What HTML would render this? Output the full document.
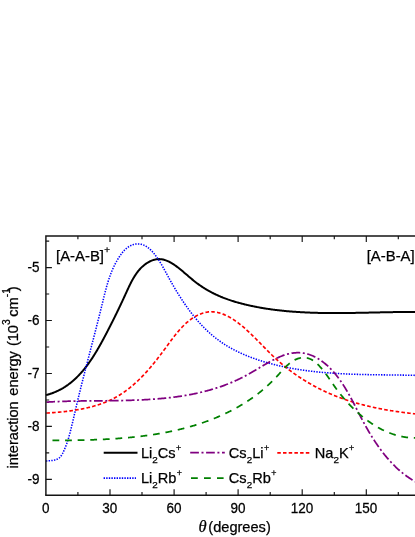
<!DOCTYPE html>
<html><head><meta charset="utf-8"><title>chart</title>
<style>html,body{margin:0;padding:0;background:#fff;}body{width:415px;height:537px;overflow:hidden;font-family:"Liberation Sans",sans-serif;}svg{display:block;will-change:transform}</style>
</head><body>
<svg width="415" height="537" viewBox="0 0 415 537">
<rect width="415" height="537" fill="#ffffff"/>
<defs><clipPath id="c"><rect x="45.4" y="235.9" width="400" height="259.4"/></clipPath></defs>
<g clip-path="url(#c)" fill="none">
<path d="M45.88,395.08 L46.67,394.88 L47.45,394.67 L48.22,394.45 L48.98,394.23 L49.74,394.00 L50.50,393.75 L51.25,393.50 L51.99,393.25 L52.72,392.98 L53.45,392.70 L54.18,392.42 L54.89,392.13 L55.61,391.83 L56.31,391.52 L57.01,391.20 L57.71,390.88 L58.40,390.55 L59.08,390.21 L59.76,389.86 L60.43,389.51 L61.10,389.14 L61.76,388.78 L62.41,388.40 L63.07,388.02 L63.71,387.63 L64.35,387.23 L64.99,386.83 L65.62,386.41 L66.24,386.00 L66.86,385.57 L67.48,385.14 L68.09,384.71 L68.69,384.26 L69.29,383.81 L69.89,383.36 L70.48,382.89 L71.06,382.43 L71.64,381.95 L72.22,381.47 L72.79,380.99 L73.36,380.50 L73.92,380.00 L74.48,379.50 L75.03,378.99 L75.58,378.48 L76.13,377.96 L76.67,377.44 L77.20,376.91 L77.73,376.37 L78.26,375.84 L78.79,375.29 L79.31,374.75 L79.82,374.19 L80.33,373.64 L80.84,373.07 L81.35,372.51 L81.85,371.94 L82.34,371.36 L82.84,370.79 L83.32,370.20 L83.81,369.62 L84.29,369.03 L84.77,368.43 L85.24,367.84 L85.71,367.23 L86.18,366.63 L86.65,366.02 L87.11,365.41 L87.57,364.79 L88.02,364.18 L88.47,363.55 L88.92,362.93 L89.36,362.30 L89.80,361.67 L90.24,361.04 L90.68,360.40 L91.11,359.77 L91.54,359.13 L91.97,358.48 L92.39,357.84 L92.81,357.19 L93.23,356.54 L93.65,355.89 L94.06,355.23 L94.47,354.58 L94.88,353.92 L95.29,353.26 L95.69,352.60 L96.09,351.94 L96.49,351.27 L96.89,350.61 L97.28,349.94 L97.67,349.27 L98.06,348.61 L98.45,347.94 L98.84,347.26 L99.22,346.59 L99.60,345.92 L99.98,345.25 L100.36,344.57 L100.73,343.90 L101.11,343.22 L101.48,342.55 L101.85,341.87 L102.22,341.20 L102.58,340.52 L102.95,339.84 L103.31,339.17 L103.68,338.49 L104.04,337.82 L104.40,337.14 L104.76,336.47 L105.11,335.79 L105.47,335.12 L105.82,334.45 L106.18,333.77 L106.53,333.10 L106.88,332.43 L107.23,331.76 L107.58,331.09 L107.92,330.42 L108.27,329.75 L108.62,329.08 L108.96,328.41 L109.30,327.74 L109.65,327.08 L109.99,326.41 L110.33,325.74 L110.67,325.07 L111.00,324.41 L111.34,323.74 L111.68,323.07 L112.02,322.41 L112.35,321.74 L112.68,321.07 L113.02,320.41 L113.35,319.74 L113.68,319.07 L114.01,318.41 L114.35,317.74 L114.68,317.07 L115.00,316.40 L115.33,315.73 L115.66,315.06 L115.99,314.40 L116.32,313.73 L116.64,313.06 L116.97,312.39 L117.29,311.71 L117.62,311.04 L117.94,310.37 L118.27,309.70 L118.59,309.02 L118.91,308.35 L119.24,307.67 L119.56,307.00 L119.88,306.32 L120.20,305.64 L120.52,304.96 L120.84,304.28 L121.16,303.60 L121.48,302.92 L121.81,302.24 L122.13,301.55 L122.45,300.87 L122.77,300.18 L123.08,299.50 L123.40,298.81 L123.72,298.12 L124.04,297.43 L124.36,296.73 L124.68,296.04 L125.00,295.34 L125.32,294.65 L125.64,293.95 L125.96,293.25 L126.28,292.55 L126.60,291.84 L126.92,291.14 L127.24,290.44 L127.57,289.73 L127.89,289.03 L128.22,288.33 L128.55,287.63 L128.88,286.93 L129.21,286.23 L129.55,285.53 L129.88,284.83 L130.23,284.14 L130.57,283.45 L130.92,282.76 L131.28,282.08 L131.63,281.40 L131.99,280.72 L132.36,280.05 L132.73,279.38 L133.11,278.71 L133.49,278.05 L133.88,277.40 L134.27,276.75 L134.67,276.11 L135.08,275.47 L135.49,274.85 L135.91,274.22 L136.34,273.61 L136.77,273.00 L137.21,272.40 L137.66,271.81 L138.12,271.22 L138.58,270.65 L139.06,270.08 L139.54,269.52 L140.03,268.98 L140.53,268.44 L141.04,267.91 L141.57,267.39 L142.10,266.89 L142.64,266.39 L143.19,265.91 L143.75,265.43 L144.32,264.97 L144.89,264.53 L145.48,264.10 L146.07,263.68 L146.67,263.27 L147.28,262.88 L147.89,262.51 L148.51,262.16 L149.13,261.82 L149.76,261.49 L150.40,261.19 L151.03,260.90 L151.67,260.64 L152.32,260.39 L152.96,260.16 L153.61,259.96 L154.26,259.77 L154.91,259.61 L155.56,259.47 L156.21,259.35 L156.86,259.25 L157.51,259.18 L158.16,259.13 L158.80,259.11 L159.45,259.11 L160.09,259.14 L160.73,259.19 L161.37,259.26 L162.01,259.35 L162.65,259.46 L163.29,259.60 L163.92,259.75 L164.56,259.93 L165.19,260.13 L165.82,260.34 L166.46,260.57 L167.09,260.82 L167.72,261.09 L168.34,261.38 L168.97,261.68 L169.60,261.99 L170.23,262.32 L170.85,262.67 L171.48,263.03 L172.10,263.40 L172.73,263.79 L173.35,264.19 L173.97,264.60 L174.60,265.02 L175.22,265.46 L175.84,265.90 L176.46,266.36 L177.09,266.82 L177.71,267.29 L178.33,267.77 L178.95,268.26 L179.58,268.76 L180.20,269.26 L180.82,269.77 L181.45,270.28 L182.07,270.80 L182.69,271.33 L183.32,271.85 L183.94,272.39 L184.57,272.92 L185.19,273.46 L185.82,274.00 L186.45,274.54 L187.08,275.08 L187.70,275.62 L188.33,276.16 L188.97,276.70 L189.60,277.24 L190.23,277.78 L190.86,278.31 L191.50,278.85 L192.13,279.38 L192.77,279.90 L193.41,280.42 L194.05,280.94 L194.69,281.45 L195.33,281.95 L195.98,282.45 L196.62,282.94 L197.27,283.43 L197.92,283.91 L198.57,284.38 L199.22,284.84 L199.88,285.30 L200.53,285.75 L201.19,286.20 L201.84,286.64 L202.50,287.07 L203.16,287.50 L203.82,287.92 L204.49,288.34 L205.15,288.75 L205.82,289.15 L206.48,289.55 L207.15,289.95 L207.82,290.33 L208.49,290.72 L209.17,291.09 L209.84,291.46 L210.51,291.83 L211.19,292.19 L211.87,292.54 L212.55,292.89 L213.23,293.24 L213.91,293.58 L214.59,293.91 L215.28,294.24 L215.96,294.56 L216.65,294.88 L217.33,295.20 L218.02,295.51 L218.71,295.82 L219.40,296.12 L220.10,296.41 L220.79,296.71 L221.48,296.99 L222.18,297.28 L222.87,297.56 L223.57,297.83 L224.27,298.10 L224.97,298.37 L225.67,298.63 L226.37,298.89 L227.08,299.14 L227.78,299.40 L228.49,299.64 L229.19,299.89 L229.90,300.13 L230.61,300.36 L231.32,300.60 L232.03,300.83 L232.74,301.05 L233.45,301.27 L234.16,301.49 L234.88,301.71 L235.59,301.92 L236.31,302.13 L237.03,302.34 L237.74,302.54 L238.46,302.74 L239.18,302.94 L239.90,303.14 L240.62,303.33 L241.34,303.52 L242.07,303.71 L242.79,303.89 L243.52,304.08 L244.24,304.26 L244.97,304.43 L245.69,304.61 L246.42,304.78 L247.15,304.95 L247.88,305.12 L248.61,305.29 L249.34,305.45 L250.07,305.62 L250.80,305.78 L251.54,305.93 L252.27,306.09 L253.01,306.24 L253.74,306.39 L254.48,306.54 L255.21,306.69 L255.95,306.84 L256.69,306.98 L257.43,307.12 L258.17,307.26 L258.91,307.39 L259.65,307.53 L260.39,307.66 L261.13,307.79 L261.87,307.92 L262.62,308.05 L263.36,308.17 L264.10,308.30 L264.85,308.42 L265.60,308.54 L266.34,308.65 L267.09,308.77 L267.84,308.88 L268.58,308.99 L269.33,309.10 L270.08,309.21 L270.83,309.32 L271.58,309.42 L272.33,309.52 L273.08,309.62 L273.84,309.72 L274.59,309.82 L275.34,309.91 L276.10,310.01 L276.85,310.10 L277.60,310.19 L278.36,310.28 L279.12,310.36 L279.87,310.45 L280.63,310.53 L281.39,310.61 L282.14,310.69 L282.90,310.77 L283.66,310.85 L284.42,310.92 L285.18,311.00 L285.94,311.07 L286.70,311.14 L287.46,311.21 L288.22,311.28 L288.98,311.34 L289.74,311.41 L290.50,311.47 L291.27,311.53 L292.03,311.59 L292.79,311.65 L293.55,311.71 L294.32,311.77 L295.08,311.82 L295.85,311.87 L296.61,311.93 L297.38,311.98 L298.14,312.02 L298.91,312.07 L299.68,312.12 L300.44,312.16 L301.21,312.21 L301.98,312.25 L302.74,312.29 L303.51,312.33 L304.28,312.37 L305.05,312.41 L305.82,312.44 L306.58,312.48 L307.35,312.51 L308.12,312.55 L308.89,312.58 L309.66,312.61 L310.43,312.64 L311.20,312.67 L311.97,312.69 L312.74,312.72 L313.51,312.75 L314.28,312.77 L315.05,312.79 L315.82,312.82 L316.59,312.84 L317.37,312.86 L318.14,312.88 L318.91,312.89 L319.68,312.91 L320.45,312.93 L321.22,312.94 L322.00,312.96 L322.77,312.97 L323.54,312.98 L324.31,312.99 L325.09,313.00 L325.86,313.01 L326.63,313.02 L327.40,313.03 L328.18,313.04 L328.95,313.04 L329.72,313.05 L330.50,313.06 L331.27,313.06 L332.04,313.06 L332.81,313.07 L333.59,313.07 L334.36,313.07 L335.13,313.07 L335.91,313.07 L336.68,313.07 L337.45,313.07 L338.22,313.07 L339.00,313.06 L339.77,313.06 L340.54,313.06 L341.31,313.05 L342.09,313.05 L342.86,313.04 L343.63,313.03 L344.40,313.03 L345.18,313.02 L345.95,313.01 L346.72,313.01 L347.49,313.00 L348.26,312.99 L349.04,312.98 L349.81,312.97 L350.58,312.96 L351.35,312.95 L352.12,312.94 L352.89,312.92 L353.66,312.91 L354.43,312.90 L355.20,312.89 L355.97,312.87 L356.74,312.86 L357.51,312.85 L358.28,312.83 L359.05,312.82 L359.82,312.80 L360.59,312.79 L361.36,312.78 L362.13,312.76 L362.90,312.74 L363.66,312.73 L364.43,312.71 L365.20,312.70 L365.97,312.68 L366.73,312.67 L367.50,312.65 L368.27,312.63 L369.03,312.62 L369.80,312.60 L370.56,312.58 L371.33,312.57 L372.09,312.55 L372.86,312.53 L373.62,312.52 L374.38,312.50 L375.15,312.48 L375.91,312.47 L376.67,312.45 L377.43,312.43 L378.20,312.42 L378.96,312.40 L379.72,312.38 L380.48,312.37 L381.24,312.35 L382.00,312.33 L382.76,312.32 L383.52,312.30 L384.28,312.29 L385.03,312.27 L385.79,312.26 L386.55,312.24 L387.30,312.23 L388.06,312.21 L388.82,312.20 L389.57,312.18 L390.33,312.17 L391.08,312.16 L391.83,312.14 L392.59,312.13 L393.34,312.12 L394.09,312.11 L394.84,312.09 L395.59,312.08 L396.35,312.07 L397.10,312.06 L397.84,312.05 L398.59,312.04 L399.34,312.03 L400.09,312.02 L400.84,312.01 L401.58,312.01 L402.33,312.00 L403.07,311.99 L403.82,311.98 L404.56,311.98 L405.31,311.97 L406.05,311.97 L406.79,311.96 L407.53,311.96 L408.27,311.96 L409.01,311.95 L409.75,311.95 L410.49,311.95 L411.23,311.95 L411.97,311.95 L412.70,311.95 L413.44,311.95 L414.17,311.96 L414.91,311.96 L415.64,311.96" stroke="#000000" stroke-width="2.0"/>
<path d="M45.92,461.00 L46.84,460.91 L47.79,460.84 L48.75,460.78 L49.73,460.71 L50.72,460.63 L51.71,460.53 L52.70,460.40 L53.68,460.24 L54.65,460.03 L55.60,459.76 L56.52,459.44 L57.40,459.06 L58.24,458.61 L59.02,458.09 L59.73,457.49 L60.38,456.83 L60.98,456.10 L61.53,455.32 L62.04,454.49 L62.51,453.63 L62.96,452.75 L63.38,451.85 L63.79,450.94 L64.18,450.03 L64.57,449.13 L64.95,448.23 L65.33,447.34 L65.69,446.44 L66.04,445.54 L66.39,444.64 L66.72,443.73 L67.04,442.82 L67.35,441.90 L67.65,440.98 L67.95,440.06 L68.23,439.13 L68.51,438.20 L68.78,437.27 L69.05,436.34 L69.31,435.40 L69.56,434.46 L69.81,433.52 L70.06,432.58 L70.30,431.64 L70.54,430.70 L70.78,429.76 L71.02,428.81 L71.25,427.87 L71.48,426.92 L71.71,425.98 L71.94,425.03 L72.17,424.09 L72.39,423.14 L72.62,422.20 L72.84,421.25 L73.06,420.30 L73.28,419.36 L73.50,418.41 L73.72,417.46 L73.94,416.51 L74.16,415.57 L74.38,414.62 L74.60,413.67 L74.81,412.73 L75.03,411.78 L75.25,410.83 L75.47,409.88 L75.69,408.94 L75.91,407.99 L76.13,407.05 L76.35,406.10 L76.58,405.16 L76.80,404.21 L77.03,403.27 L77.25,402.32 L77.48,401.38 L77.70,400.43 L77.93,399.49 L78.16,398.54 L78.39,397.60 L78.61,396.66 L78.84,395.71 L79.07,394.77 L79.30,393.83 L79.54,392.89 L79.77,391.94 L80.00,391.00 L80.23,390.06 L80.47,389.12 L80.70,388.18 L80.93,387.24 L81.17,386.29 L81.40,385.35 L81.64,384.41 L81.87,383.47 L82.11,382.53 L82.35,381.59 L82.59,380.65 L82.82,379.71 L83.06,378.77 L83.30,377.83 L83.54,376.89 L83.78,375.95 L84.02,375.01 L84.26,374.07 L84.50,373.14 L84.74,372.20 L84.98,371.26 L85.22,370.32 L85.46,369.38 L85.70,368.44 L85.94,367.50 L86.19,366.56 L86.43,365.63 L86.67,364.69 L86.91,363.75 L87.16,362.81 L87.40,361.87 L87.64,360.94 L87.88,360.00 L88.13,359.06 L88.37,358.12 L88.61,357.18 L88.86,356.25 L89.10,355.31 L89.35,354.37 L89.59,353.43 L89.83,352.50 L90.08,351.56 L90.32,350.62 L90.56,349.68 L90.81,348.75 L91.05,347.81 L91.30,346.87 L91.54,345.93 L91.78,345.00 L92.03,344.06 L92.27,343.12 L92.51,342.18 L92.76,341.24 L93.00,340.31 L93.24,339.37 L93.49,338.43 L93.73,337.49 L93.97,336.56 L94.22,335.62 L94.46,334.68 L94.70,333.74 L94.94,332.80 L95.18,331.87 L95.43,330.93 L95.67,329.99 L95.91,329.05 L96.15,328.11 L96.39,327.17 L96.63,326.23 L96.87,325.30 L97.11,324.36 L97.35,323.42 L97.59,322.48 L97.83,321.54 L98.06,320.60 L98.30,319.66 L98.54,318.72 L98.78,317.78 L99.01,316.84 L99.25,315.90 L99.49,314.96 L99.72,314.02 L99.96,313.08 L100.19,312.14 L100.42,311.20 L100.66,310.26 L100.89,309.32 L101.12,308.37 L101.36,307.43 L101.59,306.49 L101.82,305.55 L102.05,304.61 L102.28,303.66 L102.51,302.72 L102.74,301.78 L102.96,300.84 L103.19,299.89 L103.42,298.95 L103.65,298.01 L103.89,297.07 L104.12,296.13 L104.35,295.19 L104.59,294.25 L104.83,293.31 L105.07,292.37 L105.31,291.44 L105.56,290.50 L105.80,289.57 L106.06,288.63 L106.31,287.70 L106.57,286.77 L106.83,285.84 L107.10,284.92 L107.37,283.99 L107.65,283.07 L107.93,282.15 L108.21,281.23 L108.51,280.31 L108.80,279.40 L109.11,278.49 L109.42,277.58 L109.73,276.67 L110.06,275.77 L110.39,274.87 L110.72,273.97 L111.07,273.08 L111.42,272.19 L111.78,271.30 L112.15,270.41 L112.52,269.53 L112.91,268.65 L113.30,267.78 L113.71,266.91 L114.12,266.04 L114.54,265.18 L114.97,264.32 L115.42,263.47 L115.87,262.62 L116.33,261.77 L116.81,260.93 L117.29,260.09 L117.79,259.26 L118.30,258.43 L118.82,257.61 L119.35,256.79 L119.90,255.98 L120.46,255.17 L121.03,254.37 L121.61,253.58 L122.21,252.80 L122.83,252.04 L123.47,251.30 L124.12,250.58 L124.79,249.88 L125.48,249.20 L126.20,248.56 L126.93,247.94 L127.69,247.36 L128.48,246.82 L129.28,246.31 L130.12,245.85 L130.98,245.43 L131.87,245.06 L132.78,244.74 L133.71,244.47 L134.66,244.25 L135.61,244.08 L136.57,243.97 L137.52,243.91 L138.47,243.92 L139.41,243.98 L140.33,244.10 L141.24,244.28 L142.13,244.52 L143.00,244.81 L143.86,245.15 L144.70,245.53 L145.52,245.97 L146.33,246.45 L147.13,246.97 L147.90,247.52 L148.67,248.11 L149.41,248.74 L150.15,249.39 L150.86,250.08 L151.57,250.78 L152.25,251.51 L152.93,252.26 L153.59,253.03 L154.23,253.82 L154.86,254.61 L155.48,255.42 L156.08,256.23 L156.67,257.05 L157.25,257.87 L157.81,258.69 L158.37,259.51 L158.91,260.34 L159.44,261.17 L159.96,261.99 L160.47,262.82 L160.97,263.66 L161.47,264.49 L161.96,265.32 L162.44,266.16 L162.91,267.00 L163.38,267.83 L163.85,268.67 L164.31,269.51 L164.77,270.35 L165.23,271.20 L165.69,272.04 L166.15,272.88 L166.60,273.72 L167.06,274.57 L167.52,275.41 L167.98,276.25 L168.44,277.10 L168.90,277.94 L169.37,278.79 L169.84,279.63 L170.31,280.48 L170.78,281.32 L171.26,282.16 L171.74,283.01 L172.22,283.85 L172.70,284.69 L173.19,285.53 L173.68,286.37 L174.17,287.21 L174.66,288.05 L175.16,288.89 L175.66,289.73 L176.16,290.56 L176.67,291.40 L177.17,292.23 L177.68,293.06 L178.20,293.89 L178.71,294.72 L179.23,295.55 L179.76,296.37 L180.28,297.20 L180.81,298.02 L181.34,298.84 L181.87,299.66 L182.41,300.47 L182.95,301.29 L183.50,302.10 L184.04,302.91 L184.59,303.71 L185.15,304.52 L185.71,305.32 L186.27,306.12 L186.83,306.91 L187.40,307.71 L187.97,308.50 L188.54,309.28 L189.12,310.07 L189.70,310.85 L190.29,311.63 L190.88,312.40 L191.47,313.17 L192.07,313.94 L192.67,314.70 L193.27,315.46 L193.88,316.22 L194.49,316.97 L195.10,317.72 L195.72,318.46 L196.35,319.20 L196.97,319.94 L197.61,320.67 L198.24,321.40 L198.88,322.12 L199.52,322.84 L200.17,323.56 L200.83,324.27 L201.48,324.97 L202.14,325.67 L202.81,326.37 L203.48,327.06 L204.15,327.74 L204.83,328.42 L205.51,329.10 L206.20,329.77 L206.89,330.43 L207.59,331.09 L208.29,331.74 L208.99,332.39 L209.70,333.03 L210.42,333.67 L211.14,334.30 L211.86,334.93 L212.59,335.54 L213.32,336.16 L214.06,336.76 L214.80,337.36 L215.55,337.96 L216.31,338.54 L217.06,339.12 L217.83,339.70 L218.60,340.26 L219.37,340.82 L220.15,341.38 L220.93,341.93 L221.72,342.47 L222.51,343.00 L223.31,343.53 L224.11,344.05 L224.92,344.57 L225.73,345.08 L226.54,345.58 L227.36,346.08 L228.19,346.57 L229.01,347.05 L229.85,347.53 L230.68,348.00 L231.52,348.47 L232.36,348.93 L233.21,349.38 L234.06,349.83 L234.92,350.28 L235.78,350.71 L236.64,351.15 L237.50,351.57 L238.37,351.99 L239.24,352.41 L240.12,352.82 L241.00,353.22 L241.88,353.62 L242.76,354.01 L243.65,354.40 L244.54,354.79 L245.43,355.16 L246.33,355.54 L247.22,355.90 L248.13,356.27 L249.03,356.62 L249.93,356.97 L250.84,357.32 L251.75,357.66 L252.66,358.00 L253.58,358.34 L254.50,358.66 L255.41,358.99 L256.33,359.31 L257.26,359.62 L258.18,359.93 L259.11,360.23 L260.03,360.53 L260.96,360.83 L261.89,361.12 L262.82,361.41 L263.76,361.69 L264.69,361.97 L265.63,362.25 L266.57,362.52 L267.50,362.78 L268.44,363.04 L269.38,363.30 L270.32,363.56 L271.26,363.81 L272.21,364.05 L273.15,364.30 L274.09,364.53 L275.04,364.77 L275.98,365.00 L276.92,365.23 L277.87,365.45 L278.82,365.67 L279.76,365.89 L280.71,366.10 L281.66,366.31 L282.60,366.52 L283.55,366.72 L284.50,366.92 L285.45,367.12 L286.40,367.31 L287.35,367.50 L288.30,367.68 L289.25,367.87 L290.20,368.05 L291.16,368.22 L292.11,368.39 L293.06,368.56 L294.01,368.73 L294.97,368.89 L295.92,369.05 L296.88,369.21 L297.83,369.37 L298.79,369.52 L299.74,369.66 L300.70,369.81 L301.65,369.95 L302.61,370.09 L303.57,370.23 L304.53,370.36 L305.48,370.50 L306.44,370.62 L307.40,370.75 L308.36,370.87 L309.32,370.99 L310.28,371.11 L311.24,371.23 L312.20,371.34 L313.16,371.45 L314.12,371.56 L315.08,371.66 L316.05,371.77 L317.01,371.87 L317.97,371.97 L318.93,372.06 L319.90,372.16 L320.86,372.25 L321.82,372.34 L322.79,372.43 L323.75,372.51 L324.72,372.59 L325.68,372.67 L326.65,372.75 L327.61,372.83 L328.58,372.90 L329.54,372.98 L330.51,373.05 L331.48,373.12 L332.44,373.18 L333.41,373.25 L334.38,373.31 L335.35,373.37 L336.31,373.43 L337.28,373.49 L338.25,373.55 L339.22,373.60 L340.19,373.66 L341.15,373.71 L342.12,373.76 L343.09,373.81 L344.06,373.85 L345.03,373.90 L346.00,373.94 L346.97,373.99 L347.94,374.03 L348.91,374.07 L349.88,374.11 L350.85,374.14 L351.82,374.18 L352.79,374.22 L353.77,374.25 L354.74,374.28 L355.71,374.31 L356.68,374.34 L357.65,374.37 L358.62,374.40 L359.60,374.43 L360.57,374.46 L361.54,374.48 L362.51,374.51 L363.48,374.53 L364.46,374.55 L365.43,374.57 L366.40,374.60 L367.37,374.62 L368.35,374.64 L369.32,374.66 L370.29,374.67 L371.27,374.69 L372.24,374.71 L373.21,374.73 L374.19,374.74 L375.16,374.76 L376.13,374.77 L377.11,374.79 L378.08,374.80 L379.05,374.82 L380.03,374.83 L381.00,374.84 L381.97,374.86 L382.95,374.87 L383.92,374.88 L384.89,374.89 L385.87,374.91 L386.84,374.92 L387.82,374.93 L388.79,374.94 L389.76,374.95 L390.74,374.97 L391.71,374.98 L392.68,374.99 L393.66,375.00 L394.63,375.02 L395.60,375.03 L396.58,375.04 L397.55,375.05 L398.52,375.07 L399.50,375.08 L400.47,375.09 L401.44,375.11 L402.42,375.12 L403.39,375.14 L404.36,375.15 L405.33,375.17 L406.31,375.19 L407.28,375.20 L408.25,375.22 L409.22,375.24 L410.20,375.26 L411.17,375.28 L412.14,375.30 L413.11,375.32 L414.08,375.34 L415.06,375.36 L416.03,375.39" stroke="#0000ff" stroke-width="1.55" stroke-dasharray="1.4 1.3"/>
<path d="M46.26,413.08 L46.94,413.04 L47.62,413.00 L48.30,412.96 L48.99,412.92 L49.68,412.87 L50.38,412.83 L51.07,412.78 L51.77,412.73 L52.48,412.68 L53.18,412.63 L53.89,412.58 L54.60,412.52 L55.31,412.47 L56.02,412.41 L56.73,412.35 L57.45,412.29 L58.17,412.22 L58.89,412.16 L59.62,412.09 L60.34,412.02 L61.07,411.95 L61.79,411.88 L62.52,411.80 L63.25,411.73 L63.98,411.65 L64.72,411.57 L65.45,411.48 L66.19,411.40 L66.92,411.31 L67.66,411.22 L68.40,411.13 L69.14,411.03 L69.88,410.93 L70.62,410.83 L71.36,410.73 L72.10,410.62 L72.84,410.52 L73.58,410.41 L74.33,410.29 L75.07,410.18 L75.81,410.06 L76.55,409.93 L77.30,409.81 L78.04,409.68 L78.78,409.55 L79.52,409.42 L80.27,409.28 L81.01,409.14 L81.75,409.00 L82.49,408.85 L83.23,408.70 L83.97,408.55 L84.70,408.39 L85.44,408.23 L86.18,408.07 L86.91,407.90 L87.65,407.73 L88.38,407.56 L89.11,407.38 L89.84,407.20 L90.57,407.02 L91.30,406.83 L92.02,406.64 L92.75,406.44 L93.47,406.24 L94.19,406.04 L94.91,405.83 L95.63,405.62 L96.34,405.40 L97.06,405.18 L97.77,404.96 L98.48,404.73 L99.18,404.50 L99.89,404.26 L100.59,404.02 L101.29,403.78 L101.98,403.53 L102.68,403.28 L103.37,403.02 L104.05,402.76 L104.74,402.49 L105.42,402.22 L106.10,401.94 L106.78,401.66 L107.45,401.38 L108.12,401.09 L108.78,400.79 L109.45,400.49 L110.10,400.19 L110.76,399.88 L111.41,399.57 L112.06,399.25 L112.71,398.92 L113.35,398.59 L113.98,398.26 L114.62,397.92 L115.25,397.58 L115.88,397.23 L116.50,396.88 L117.13,396.53 L117.74,396.17 L118.36,395.80 L118.97,395.43 L119.58,395.06 L120.19,394.68 L120.79,394.30 L121.39,393.91 L121.98,393.52 L122.58,393.13 L123.17,392.73 L123.76,392.32 L124.34,391.92 L124.92,391.51 L125.50,391.09 L126.08,390.67 L126.65,390.25 L127.22,389.82 L127.79,389.39 L128.36,388.96 L128.92,388.52 L129.48,388.08 L130.04,387.63 L130.60,387.18 L131.15,386.73 L131.70,386.27 L132.25,385.81 L132.79,385.35 L133.33,384.88 L133.88,384.41 L134.41,383.94 L134.95,383.46 L135.48,382.98 L136.02,382.49 L136.54,382.01 L137.07,381.51 L137.60,381.02 L138.12,380.52 L138.64,380.02 L139.16,379.52 L139.68,379.01 L140.19,378.50 L140.70,377.99 L141.22,377.48 L141.72,376.96 L142.23,376.44 L142.74,375.91 L143.24,375.39 L143.74,374.86 L144.24,374.33 L144.74,373.79 L145.24,373.25 L145.73,372.71 L146.23,372.17 L146.72,371.63 L147.21,371.08 L147.70,370.53 L148.18,369.98 L148.67,369.42 L149.15,368.86 L149.64,368.30 L150.12,367.74 L150.60,367.18 L151.08,366.61 L151.55,366.04 L152.03,365.47 L152.51,364.90 L152.98,364.32 L153.45,363.75 L153.92,363.17 L154.39,362.59 L154.86,362.00 L155.33,361.42 L155.80,360.83 L156.27,360.24 L156.73,359.65 L157.20,359.06 L157.66,358.47 L158.12,357.87 L158.58,357.27 L159.05,356.68 L159.51,356.08 L159.97,355.47 L160.42,354.87 L160.88,354.27 L161.34,353.66 L161.80,353.05 L162.25,352.44 L162.71,351.83 L163.17,351.22 L163.62,350.61 L164.08,350.00 L164.53,349.38 L164.98,348.76 L165.44,348.15 L165.89,347.53 L166.34,346.91 L166.80,346.29 L167.25,345.67 L167.70,345.05 L168.16,344.43 L168.61,343.81 L169.06,343.19 L169.52,342.58 L169.98,341.96 L170.43,341.34 L170.89,340.73 L171.35,340.11 L171.81,339.50 L172.27,338.89 L172.73,338.28 L173.20,337.67 L173.66,337.07 L174.13,336.46 L174.60,335.86 L175.07,335.27 L175.54,334.67 L176.02,334.08 L176.49,333.49 L176.97,332.91 L177.46,332.33 L177.94,331.75 L178.43,331.18 L178.92,330.61 L179.41,330.04 L179.91,329.48 L180.40,328.93 L180.91,328.38 L181.41,327.83 L181.92,327.29 L182.43,326.76 L182.95,326.23 L183.47,325.71 L183.99,325.19 L184.52,324.68 L185.05,324.18 L185.58,323.68 L186.12,323.19 L186.67,322.70 L187.22,322.23 L187.77,321.76 L188.33,321.29 L188.89,320.84 L189.46,320.39 L190.03,319.95 L190.61,319.52 L191.19,319.10 L191.78,318.69 L192.37,318.28 L192.97,317.89 L193.57,317.50 L194.18,317.12 L194.80,316.75 L195.42,316.40 L196.04,316.05 L196.68,315.71 L197.31,315.38 L197.95,315.07 L198.59,314.77 L199.24,314.48 L199.89,314.20 L200.54,313.94 L201.20,313.68 L201.85,313.45 L202.51,313.22 L203.18,313.02 L203.84,312.82 L204.50,312.65 L205.17,312.48 L205.84,312.34 L206.50,312.21 L207.17,312.10 L207.83,312.00 L208.50,311.92 L209.17,311.86 L209.83,311.82 L210.50,311.79 L211.16,311.78 L211.83,311.79 L212.49,311.81 L213.15,311.85 L213.81,311.90 L214.48,311.97 L215.14,312.05 L215.80,312.15 L216.46,312.26 L217.11,312.38 L217.77,312.52 L218.43,312.68 L219.08,312.84 L219.74,313.02 L220.39,313.22 L221.04,313.42 L221.70,313.64 L222.35,313.87 L223.00,314.11 L223.64,314.37 L224.29,314.63 L224.94,314.91 L225.58,315.20 L226.22,315.50 L226.86,315.80 L227.50,316.12 L228.14,316.45 L228.78,316.79 L229.42,317.14 L230.05,317.50 L230.68,317.87 L231.31,318.24 L231.94,318.63 L232.57,319.02 L233.19,319.42 L233.82,319.83 L234.44,320.25 L235.06,320.67 L235.68,321.10 L236.29,321.54 L236.91,321.98 L237.52,322.43 L238.13,322.89 L238.74,323.35 L239.34,323.82 L239.94,324.29 L240.54,324.77 L241.14,325.25 L241.74,325.74 L242.33,326.23 L242.93,326.73 L243.52,327.23 L244.10,327.74 L244.69,328.24 L245.27,328.75 L245.85,329.27 L246.42,329.78 L247.00,330.30 L247.57,330.82 L248.14,331.35 L248.70,331.87 L249.27,332.40 L249.82,332.93 L250.38,333.46 L250.94,333.98 L251.49,334.51 L252.04,335.04 L252.58,335.57 L253.12,336.10 L253.66,336.63 L254.20,337.16 L254.73,337.69 L255.26,338.22 L255.79,338.75 L256.32,339.28 L256.84,339.80 L257.36,340.33 L257.88,340.85 L258.40,341.38 L258.92,341.90 L259.43,342.43 L259.94,342.95 L260.45,343.48 L260.96,344.00 L261.47,344.52 L261.98,345.04 L262.49,345.56 L262.99,346.08 L263.50,346.59 L264.00,347.11 L264.51,347.63 L265.01,348.14 L265.52,348.66 L266.02,349.17 L266.53,349.68 L267.03,350.19 L267.53,350.70 L268.04,351.21 L268.55,351.71 L269.05,352.22 L269.56,352.72 L270.07,353.23 L270.57,353.73 L271.08,354.23 L271.60,354.73 L272.11,355.23 L272.62,355.72 L273.14,356.22 L273.66,356.71 L274.18,357.20 L274.70,357.69 L275.22,358.18 L275.75,358.66 L276.27,359.15 L276.80,359.63 L277.34,360.11 L277.87,360.59 L278.41,361.07 L278.95,361.54 L279.49,362.02 L280.04,362.49 L280.58,362.96 L281.13,363.43 L281.68,363.89 L282.23,364.36 L282.79,364.82 L283.35,365.28 L283.90,365.74 L284.47,366.20 L285.03,366.65 L285.60,367.11 L286.16,367.56 L286.73,368.01 L287.30,368.45 L287.88,368.90 L288.45,369.34 L289.03,369.79 L289.61,370.23 L290.19,370.66 L290.77,371.10 L291.36,371.53 L291.95,371.96 L292.54,372.39 L293.13,372.82 L293.72,373.25 L294.31,373.67 L294.91,374.09 L295.51,374.51 L296.11,374.93 L296.71,375.34 L297.31,375.75 L297.92,376.17 L298.53,376.57 L299.14,376.98 L299.75,377.38 L300.36,377.79 L300.97,378.19 L301.59,378.58 L302.20,378.98 L302.82,379.37 L303.44,379.76 L304.06,380.15 L304.69,380.54 L305.31,380.92 L305.94,381.30 L306.57,381.68 L307.19,382.06 L307.83,382.43 L308.46,382.81 L309.09,383.18 L309.73,383.54 L310.36,383.91 L311.00,384.27 L311.64,384.63 L312.28,384.99 L312.92,385.35 L313.57,385.70 L314.21,386.05 L314.86,386.40 L315.50,386.75 L316.15,387.09 L316.80,387.43 L317.45,387.77 L318.10,388.11 L318.76,388.44 L319.41,388.77 L320.07,389.10 L320.72,389.42 L321.38,389.75 L322.04,390.07 L322.70,390.39 L323.36,390.70 L324.03,391.02 L324.69,391.33 L325.35,391.63 L326.02,391.94 L326.69,392.24 L327.35,392.54 L328.02,392.84 L328.69,393.13 L329.36,393.43 L330.03,393.72 L330.70,394.00 L331.38,394.29 L332.05,394.57 L332.73,394.85 L333.40,395.13 L334.08,395.40 L334.76,395.68 L335.44,395.95 L336.12,396.21 L336.80,396.48 L337.48,396.74 L338.16,397.00 L338.85,397.26 L339.53,397.52 L340.22,397.77 L340.90,398.02 L341.59,398.27 L342.28,398.52 L342.97,398.76 L343.65,399.00 L344.34,399.24 L345.04,399.48 L345.73,399.72 L346.42,399.95 L347.11,400.18 L347.81,400.41 L348.50,400.64 L349.20,400.86 L349.89,401.08 L350.59,401.30 L351.29,401.52 L351.99,401.74 L352.68,401.95 L353.38,402.16 L354.08,402.37 L354.79,402.58 L355.49,402.78 L356.19,402.99 L356.89,403.19 L357.60,403.39 L358.30,403.58 L359.01,403.78 L359.71,403.97 L360.42,404.16 L361.12,404.35 L361.83,404.54 L362.54,404.72 L363.25,404.91 L363.96,405.09 L364.67,405.27 L365.38,405.45 L366.09,405.62 L366.80,405.80 L367.51,405.97 L368.22,406.14 L368.93,406.31 L369.65,406.47 L370.36,406.64 L371.07,406.80 L371.79,406.96 L372.50,407.12 L373.22,407.28 L373.94,407.44 L374.65,407.59 L375.37,407.74 L376.09,407.89 L376.80,408.04 L377.52,408.19 L378.24,408.34 L378.96,408.48 L379.68,408.62 L380.40,408.76 L381.12,408.90 L381.84,409.04 L382.56,409.18 L383.28,409.31 L384.00,409.44 L384.72,409.57 L385.44,409.70 L386.16,409.83 L386.89,409.96 L387.61,410.08 L388.33,410.21 L389.05,410.33 L389.78,410.45 L390.50,410.57 L391.22,410.69 L391.95,410.81 L392.67,410.92 L393.40,411.03 L394.12,411.15 L394.85,411.26 L395.57,411.37 L396.30,411.48 L397.02,411.58 L397.75,411.69 L398.47,411.79 L399.20,411.89 L399.93,412.00 L400.65,412.10 L401.38,412.20 L402.10,412.29 L402.83,412.39 L403.56,412.49 L404.28,412.58 L405.01,412.67 L405.74,412.76 L406.46,412.86 L407.19,412.94 L407.92,413.03 L408.64,413.12 L409.37,413.21 L410.10,413.29 L410.82,413.37 L411.55,413.46 L412.28,413.54 L413.00,413.62 L413.73,413.70 L414.46,413.78 L415.18,413.85 L415.91,413.93" stroke="#ff0000" stroke-width="1.65" stroke-dasharray="3.6 2.2"/>
<path d="M46.33,402.15 L47.04,402.10 L47.76,402.06 L48.47,402.02 L49.19,401.97 L49.90,401.94 L50.62,401.90 L51.34,401.86 L52.05,401.82 L52.77,401.79 L53.49,401.75 L54.21,401.72 L54.93,401.68 L55.65,401.65 L56.38,401.62 L57.10,401.59 L57.82,401.56 L58.54,401.53 L59.27,401.50 L59.99,401.48 L60.72,401.45 L61.44,401.43 L62.17,401.40 L62.90,401.38 L63.62,401.36 L64.35,401.33 L65.08,401.31 L65.81,401.29 L66.54,401.27 L67.27,401.25 L68.00,401.23 L68.73,401.21 L69.46,401.20 L70.19,401.18 L70.93,401.16 L71.66,401.15 L72.39,401.13 L73.13,401.12 L73.86,401.10 L74.60,401.09 L75.33,401.08 L76.07,401.06 L76.80,401.05 L77.54,401.04 L78.27,401.03 L79.01,401.02 L79.75,401.01 L80.49,401.00 L81.23,400.99 L81.96,400.98 L82.70,400.97 L83.44,400.96 L84.18,400.95 L84.92,400.94 L85.66,400.93 L86.40,400.93 L87.14,400.92 L87.89,400.91 L88.63,400.90 L89.37,400.90 L90.11,400.89 L90.85,400.88 L91.60,400.88 L92.34,400.87 L93.08,400.86 L93.83,400.86 L94.57,400.85 L95.32,400.85 L96.06,400.84 L96.81,400.83 L97.55,400.83 L98.30,400.82 L99.04,400.81 L99.79,400.81 L100.53,400.80 L101.28,400.80 L102.03,400.79 L102.77,400.78 L103.52,400.78 L104.27,400.77 L105.01,400.76 L105.76,400.75 L106.51,400.75 L107.25,400.74 L108.00,400.73 L108.75,400.72 L109.50,400.71 L110.25,400.71 L110.99,400.70 L111.74,400.69 L112.49,400.68 L113.24,400.67 L113.99,400.66 L114.74,400.65 L115.48,400.63 L116.23,400.62 L116.98,400.61 L117.73,400.60 L118.48,400.59 L119.23,400.57 L119.98,400.56 L120.73,400.54 L121.48,400.53 L122.23,400.51 L122.98,400.50 L123.72,400.48 L124.47,400.46 L125.22,400.45 L125.97,400.43 L126.72,400.41 L127.47,400.39 L128.22,400.37 L128.97,400.35 L129.72,400.32 L130.47,400.30 L131.22,400.28 L131.96,400.25 L132.71,400.23 L133.46,400.20 L134.21,400.18 L134.96,400.15 L135.71,400.12 L136.46,400.09 L137.20,400.06 L137.95,400.03 L138.70,400.00 L139.45,399.97 L140.20,399.93 L140.94,399.90 L141.69,399.86 L142.44,399.83 L143.19,399.79 L143.93,399.75 L144.68,399.71 L145.43,399.67 L146.17,399.63 L146.92,399.59 L147.66,399.54 L148.41,399.50 L149.16,399.45 L149.90,399.41 L150.65,399.36 L151.39,399.31 L152.14,399.26 L152.88,399.21 L153.63,399.15 L154.37,399.10 L155.11,399.04 L155.86,398.99 L156.60,398.93 L157.34,398.87 L158.09,398.81 L158.83,398.74 L159.57,398.68 L160.31,398.62 L161.05,398.55 L161.79,398.48 L162.53,398.41 L163.27,398.34 L164.01,398.27 L164.75,398.20 L165.49,398.12 L166.23,398.04 L166.97,397.97 L167.71,397.89 L168.45,397.80 L169.19,397.72 L169.92,397.64 L170.66,397.55 L171.40,397.46 L172.13,397.37 L172.87,397.28 L173.60,397.19 L174.34,397.10 L175.07,397.00 L175.80,396.90 L176.54,396.80 L177.27,396.70 L178.00,396.60 L178.73,396.49 L179.47,396.39 L180.20,396.28 L180.93,396.17 L181.66,396.06 L182.39,395.94 L183.12,395.83 L183.84,395.71 L184.57,395.59 L185.30,395.47 L186.03,395.34 L186.75,395.22 L187.48,395.09 L188.20,394.96 L188.93,394.83 L189.65,394.70 L190.38,394.56 L191.10,394.42 L191.82,394.28 L192.54,394.14 L193.26,394.00 L193.98,393.85 L194.70,393.70 L195.42,393.55 L196.14,393.40 L196.86,393.24 L197.58,393.09 L198.29,392.93 L199.01,392.77 L199.72,392.60 L200.44,392.44 L201.15,392.27 L201.87,392.10 L202.58,391.92 L203.29,391.75 L204.00,391.57 L204.71,391.39 L205.42,391.21 L206.13,391.02 L206.84,390.84 L207.55,390.65 L208.26,390.45 L208.96,390.26 L209.67,390.06 L210.37,389.86 L211.08,389.66 L211.78,389.46 L212.48,389.25 L213.18,389.04 L213.88,388.83 L214.58,388.61 L215.28,388.39 L215.98,388.17 L216.68,387.95 L217.38,387.72 L218.07,387.49 L218.77,387.26 L219.46,387.03 L220.16,386.79 L220.85,386.55 L221.54,386.31 L222.23,386.07 L222.92,385.82 L223.61,385.57 L224.30,385.32 L224.99,385.06 L225.67,384.80 L226.36,384.54 L227.04,384.27 L227.73,384.01 L228.41,383.73 L229.09,383.46 L229.77,383.18 L230.45,382.90 L231.13,382.62 L231.81,382.34 L232.49,382.05 L233.16,381.76 L233.84,381.46 L234.51,381.16 L235.18,380.86 L235.86,380.56 L236.53,380.25 L237.20,379.94 L237.87,379.63 L238.53,379.31 L239.20,378.99 L239.87,378.67 L240.53,378.34 L241.20,378.01 L241.86,377.68 L242.52,377.34 L243.18,377.00 L243.84,376.66 L244.50,376.31 L245.16,375.96 L245.81,375.61 L246.47,375.26 L247.12,374.90 L247.78,374.54 L248.43,374.17 L249.08,373.81 L249.74,373.44 L250.39,373.07 L251.04,372.70 L251.69,372.32 L252.34,371.95 L252.98,371.57 L253.63,371.19 L254.28,370.81 L254.93,370.43 L255.58,370.05 L256.22,369.67 L256.87,369.29 L257.52,368.90 L258.17,368.52 L258.81,368.14 L259.46,367.76 L260.11,367.37 L260.76,366.99 L261.41,366.61 L262.06,366.23 L262.70,365.85 L263.35,365.47 L264.00,365.09 L264.65,364.71 L265.31,364.34 L265.96,363.96 L266.61,363.59 L267.26,363.22 L267.92,362.85 L268.57,362.49 L269.23,362.12 L269.88,361.76 L270.54,361.40 L271.20,361.05 L271.86,360.70 L272.52,360.35 L273.19,360.00 L273.85,359.66 L274.51,359.32 L275.18,358.98 L275.85,358.65 L276.52,358.33 L277.19,358.01 L277.86,357.70 L278.54,357.39 L279.21,357.09 L279.89,356.79 L280.57,356.50 L281.25,356.22 L281.93,355.95 L282.61,355.69 L283.30,355.44 L283.98,355.19 L284.67,354.96 L285.36,354.74 L286.05,354.52 L286.75,354.32 L287.44,354.13 L288.14,353.95 L288.84,353.78 L289.54,353.62 L290.24,353.48 L290.94,353.35 L291.64,353.23 L292.35,353.12 L293.05,353.02 L293.76,352.94 L294.46,352.87 L295.17,352.81 L295.88,352.77 L296.58,352.73 L297.29,352.72 L297.99,352.71 L298.70,352.72 L299.40,352.74 L300.10,352.77 L300.81,352.82 L301.51,352.88 L302.21,352.95 L302.91,353.04 L303.61,353.15 L304.30,353.26 L305.00,353.39 L305.69,353.54 L306.38,353.70 L307.07,353.88 L307.75,354.06 L308.44,354.27 L309.12,354.48 L309.79,354.72 L310.47,354.96 L311.14,355.22 L311.81,355.49 L312.48,355.77 L313.14,356.06 L313.80,356.37 L314.46,356.68 L315.11,357.01 L315.76,357.35 L316.40,357.70 L317.04,358.06 L317.67,358.43 L318.31,358.81 L318.93,359.19 L319.55,359.59 L320.17,360.00 L320.78,360.41 L321.39,360.84 L321.99,361.27 L322.59,361.70 L323.18,362.15 L323.76,362.60 L324.35,363.06 L324.92,363.53 L325.49,364.00 L326.06,364.48 L326.62,364.97 L327.17,365.46 L327.72,365.96 L328.27,366.47 L328.81,366.98 L329.34,367.50 L329.87,368.02 L330.40,368.55 L330.92,369.08 L331.43,369.62 L331.95,370.17 L332.45,370.72 L332.96,371.28 L333.45,371.84 L333.95,372.40 L334.44,372.97 L334.92,373.54 L335.40,374.12 L335.88,374.70 L336.35,375.29 L336.82,375.88 L337.28,376.47 L337.74,377.07 L338.20,377.67 L338.65,378.28 L339.09,378.89 L339.54,379.50 L339.98,380.11 L340.41,380.73 L340.85,381.35 L341.27,381.97 L341.70,382.59 L342.12,383.22 L342.54,383.85 L342.95,384.48 L343.36,385.11 L343.77,385.75 L344.17,386.38 L344.57,387.02 L344.97,387.66 L345.36,388.30 L345.75,388.94 L346.14,389.59 L346.53,390.23 L346.91,390.88 L347.28,391.52 L347.66,392.17 L348.03,392.81 L348.40,393.46 L348.77,394.10 L349.13,394.75 L349.49,395.39 L349.85,396.04 L350.20,396.68 L350.56,397.33 L350.91,397.97 L351.25,398.61 L351.60,399.26 L351.94,399.90 L352.28,400.54 L352.62,401.18 L352.95,401.82 L353.29,402.45 L353.62,403.09 L353.95,403.73 L354.28,404.36 L354.61,405.00 L354.94,405.63 L355.26,406.27 L355.59,406.90 L355.92,407.53 L356.24,408.17 L356.56,408.80 L356.89,409.43 L357.21,410.06 L357.53,410.70 L357.86,411.33 L358.18,411.96 L358.50,412.59 L358.83,413.22 L359.15,413.85 L359.48,414.49 L359.80,415.12 L360.13,415.75 L360.46,416.38 L360.78,417.01 L361.11,417.64 L361.44,418.28 L361.78,418.91 L362.11,419.54 L362.44,420.17 L362.78,420.80 L363.12,421.44 L363.46,422.07 L363.80,422.70 L364.14,423.33 L364.48,423.97 L364.83,424.60 L365.18,425.23 L365.53,425.87 L365.88,426.50 L366.24,427.13 L366.59,427.77 L366.95,428.40 L367.31,429.03 L367.68,429.67 L368.04,430.30 L368.41,430.94 L368.78,431.57 L369.16,432.20 L369.53,432.84 L369.91,433.47 L370.29,434.10 L370.67,434.74 L371.06,435.37 L371.45,436.00 L371.84,436.63 L372.23,437.26 L372.63,437.89 L373.02,438.51 L373.42,439.14 L373.83,439.77 L374.23,440.39 L374.64,441.02 L375.05,441.64 L375.46,442.26 L375.88,442.88 L376.29,443.50 L376.72,444.12 L377.14,444.73 L377.56,445.35 L377.99,445.96 L378.42,446.57 L378.86,447.18 L379.29,447.79 L379.73,448.40 L380.17,449.00 L380.62,449.60 L381.06,450.20 L381.51,450.80 L381.96,451.40 L382.42,451.99 L382.88,452.59 L383.34,453.18 L383.80,453.76 L384.26,454.35 L384.73,454.93 L385.20,455.51 L385.68,456.09 L386.15,456.67 L386.63,457.24 L387.12,457.81 L387.60,458.37 L388.09,458.94 L388.58,459.50 L389.07,460.06 L389.57,460.61 L390.07,461.16 L390.57,461.71 L391.08,462.26 L391.59,462.80 L392.10,463.34 L392.61,463.88 L393.13,464.41 L393.65,464.94 L394.17,465.46 L394.70,465.98 L395.22,466.50 L395.76,467.02 L396.29,467.53 L396.83,468.03 L397.37,468.53 L397.91,469.03 L398.46,469.53 L399.01,470.02 L399.56,470.50 L400.12,470.99 L400.68,471.46 L401.24,471.94 L401.81,472.41 L402.38,472.87 L402.95,473.33 L403.52,473.79 L404.10,474.24 L404.68,474.68 L405.27,475.12 L405.85,475.56 L406.44,475.99 L407.04,476.42 L407.64,476.84 L408.24,477.26 L408.84,477.67 L409.45,478.07 L410.06,478.47 L410.67,478.87 L411.29,479.26 L411.91,479.65 L412.53,480.03 L413.16,480.40 L413.79,480.77 L414.42,481.13 L415.06,481.49 L415.70,481.84" stroke="#800080" stroke-width="1.75" stroke-dasharray="8.7 2.6 2 2.6"/>
<path d="M52.47,440.49 L53.17,440.49 L53.87,440.48 L54.57,440.48 L55.27,440.47 L55.98,440.47 L56.68,440.46 L57.39,440.46 L58.09,440.45 L58.79,440.44 L59.50,440.44 L60.20,440.43 L60.91,440.43 L61.62,440.42 L62.32,440.41 L63.03,440.41 L63.74,440.40 L64.44,440.39 L65.15,440.38 L65.86,440.38 L66.57,440.37 L67.28,440.36 L67.99,440.35 L68.69,440.34 L69.40,440.33 L70.11,440.32 L70.82,440.31 L71.53,440.30 L72.25,440.29 L72.96,440.28 L73.67,440.27 L74.38,440.25 L75.09,440.24 L75.80,440.23 L76.52,440.22 L77.23,440.20 L77.94,440.19 L78.65,440.17 L79.37,440.16 L80.08,440.14 L80.79,440.13 L81.51,440.11 L82.22,440.10 L82.94,440.08 L83.65,440.06 L84.37,440.04 L85.08,440.02 L85.79,440.00 L86.51,439.99 L87.23,439.96 L87.94,439.94 L88.66,439.92 L89.37,439.90 L90.09,439.88 L90.80,439.86 L91.52,439.83 L92.24,439.81 L92.95,439.78 L93.67,439.76 L94.39,439.73 L95.10,439.70 L95.82,439.68 L96.54,439.65 L97.25,439.62 L97.97,439.59 L98.69,439.56 L99.40,439.53 L100.12,439.50 L100.84,439.47 L101.56,439.43 L102.27,439.40 L102.99,439.37 L103.71,439.33 L104.43,439.29 L105.14,439.26 L105.86,439.22 L106.58,439.18 L107.30,439.14 L108.02,439.10 L108.73,439.06 L109.45,439.02 L110.17,438.98 L110.89,438.94 L111.60,438.89 L112.32,438.85 L113.04,438.80 L113.76,438.76 L114.47,438.71 L115.19,438.66 L115.91,438.61 L116.63,438.56 L117.34,438.51 L118.06,438.46 L118.78,438.41 L119.50,438.35 L120.21,438.30 L120.93,438.24 L121.65,438.19 L122.36,438.13 L123.08,438.07 L123.80,438.01 L124.51,437.95 L125.23,437.89 L125.95,437.83 L126.66,437.76 L127.38,437.70 L128.09,437.63 L128.81,437.57 L129.52,437.50 L130.24,437.43 L130.95,437.36 L131.67,437.29 L132.38,437.22 L133.10,437.15 L133.81,437.07 L134.53,437.00 L135.24,436.92 L135.96,436.84 L136.67,436.76 L137.38,436.68 L138.10,436.60 L138.81,436.52 L139.52,436.44 L140.23,436.35 L140.95,436.27 L141.66,436.18 L142.37,436.09 L143.08,436.00 L143.79,435.91 L144.50,435.82 L145.21,435.72 L145.92,435.63 L146.63,435.53 L147.34,435.44 L148.05,435.34 L148.76,435.24 L149.47,435.14 L150.18,435.04 L150.89,434.93 L151.60,434.83 L152.31,434.72 L153.01,434.61 L153.72,434.50 L154.43,434.39 L155.13,434.28 L155.84,434.17 L156.55,434.05 L157.25,433.94 L157.96,433.82 L158.66,433.70 L159.36,433.58 L160.07,433.46 L160.77,433.34 L161.47,433.21 L162.18,433.08 L162.88,432.96 L163.58,432.83 L164.28,432.70 L164.98,432.56 L165.68,432.43 L166.38,432.30 L167.08,432.16 L167.78,432.02 L168.48,431.88 L169.18,431.74 L169.88,431.60 L170.58,431.45 L171.27,431.31 L171.97,431.16 L172.67,431.01 L173.36,430.86 L174.06,430.71 L174.75,430.55 L175.44,430.40 L176.14,430.24 L176.83,430.08 L177.52,429.92 L178.22,429.76 L178.91,429.59 L179.60,429.43 L180.29,429.26 L180.98,429.09 L181.67,428.92 L182.36,428.75 L183.04,428.57 L183.73,428.39 L184.42,428.22 L185.11,428.04 L185.79,427.86 L186.48,427.67 L187.16,427.49 L187.85,427.30 L188.53,427.11 L189.21,426.92 L189.89,426.73 L190.58,426.53 L191.26,426.34 L191.94,426.14 L192.62,425.94 L193.30,425.74 L193.98,425.54 L194.65,425.33 L195.33,425.12 L196.01,424.91 L196.68,424.70 L197.36,424.49 L198.03,424.27 L198.71,424.06 L199.38,423.84 L200.05,423.62 L200.72,423.39 L201.40,423.17 L202.07,422.94 L202.74,422.71 L203.40,422.48 L204.07,422.25 L204.74,422.02 L205.41,421.78 L206.07,421.54 L206.74,421.30 L207.40,421.06 L208.07,420.81 L208.73,420.56 L209.39,420.31 L210.05,420.06 L210.71,419.81 L211.37,419.55 L212.03,419.30 L212.69,419.04 L213.35,418.77 L214.00,418.51 L214.66,418.24 L215.32,417.98 L215.97,417.71 L216.62,417.43 L217.28,417.16 L217.93,416.88 L218.58,416.60 L219.23,416.32 L219.88,416.04 L220.53,415.75 L221.17,415.46 L221.82,415.17 L222.47,414.88 L223.11,414.58 L223.75,414.28 L224.40,413.99 L225.04,413.68 L225.68,413.38 L226.32,413.07 L226.96,412.76 L227.60,412.45 L228.24,412.14 L228.87,411.82 L229.51,411.50 L230.14,411.18 L230.78,410.86 L231.41,410.53 L232.04,410.21 L232.67,409.88 L233.30,409.54 L233.93,409.21 L234.55,408.87 L235.18,408.53 L235.80,408.19 L236.43,407.85 L237.05,407.50 L237.67,407.15 L238.29,406.80 L238.91,406.44 L239.53,406.09 L240.14,405.73 L240.76,405.36 L241.37,405.00 L241.98,404.63 L242.59,404.26 L243.20,403.89 L243.81,403.52 L244.42,403.14 L245.02,402.76 L245.62,402.38 L246.23,401.99 L246.83,401.61 L247.43,401.22 L248.02,400.83 L248.62,400.43 L249.21,400.03 L249.81,399.63 L250.40,399.23 L250.99,398.83 L251.58,398.42 L252.16,398.01 L252.75,397.60 L253.33,397.18 L253.91,396.76 L254.49,396.34 L255.07,395.92 L255.65,395.49 L256.22,395.06 L256.80,394.63 L257.37,394.20 L257.94,393.76 L258.50,393.32 L259.07,392.88 L259.63,392.43 L260.20,391.99 L260.76,391.54 L261.31,391.08 L261.87,390.63 L262.43,390.17 L262.98,389.71 L263.53,389.24 L264.08,388.78 L264.62,388.31 L265.17,387.84 L265.71,387.36 L266.25,386.88 L266.79,386.40 L267.33,385.92 L267.86,385.43 L268.39,384.94 L268.92,384.45 L269.45,383.96 L269.98,383.46 L270.50,382.96 L271.02,382.46 L271.54,381.95 L272.06,381.44 L272.57,380.93 L273.09,380.42 L273.60,379.90 L274.10,379.38 L274.61,378.85 L275.11,378.33 L275.61,377.80 L276.11,377.27 L276.61,376.73 L277.10,376.19 L277.60,375.66 L278.09,375.11 L278.58,374.57 L279.06,374.03 L279.55,373.49 L280.04,372.95 L280.52,372.41 L281.01,371.87 L281.49,371.33 L281.98,370.80 L282.46,370.27 L282.95,369.74 L283.44,369.22 L283.93,368.70 L284.42,368.19 L284.91,367.69 L285.40,367.19 L285.90,366.69 L286.40,366.21 L286.90,365.73 L287.40,365.26 L287.91,364.80 L288.42,364.35 L288.93,363.91 L289.45,363.48 L289.97,363.06 L290.50,362.66 L291.03,362.26 L291.56,361.88 L292.10,361.51 L292.65,361.15 L293.20,360.81 L293.75,360.49 L294.31,360.17 L294.88,359.88 L295.46,359.60 L296.04,359.33 L296.63,359.09 L297.22,358.86 L297.82,358.65 L298.42,358.46 L299.03,358.29 L299.65,358.14 L300.26,358.00 L300.88,357.89 L301.50,357.80 L302.13,357.73 L302.75,357.68 L303.38,357.66 L304.01,357.65 L304.64,357.67 L305.26,357.72 L305.89,357.78 L306.51,357.88 L307.14,357.99 L307.76,358.14 L308.37,358.30 L308.98,358.50 L309.59,358.72 L310.20,358.97 L310.80,359.25 L311.39,359.55 L311.98,359.87 L312.56,360.23 L313.14,360.60 L313.71,360.99 L314.27,361.40 L314.83,361.83 L315.39,362.28 L315.93,362.74 L316.48,363.21 L317.01,363.70 L317.54,364.20 L318.06,364.70 L318.57,365.21 L319.08,365.73 L319.58,366.26 L320.08,366.79 L320.57,367.33 L321.05,367.88 L321.53,368.43 L322.01,368.98 L322.48,369.55 L322.94,370.11 L323.40,370.68 L323.85,371.26 L324.30,371.84 L324.75,372.42 L325.19,373.00 L325.63,373.59 L326.07,374.19 L326.50,374.78 L326.93,375.38 L327.36,375.98 L327.79,376.58 L328.21,377.18 L328.64,377.79 L329.06,378.40 L329.48,379.00 L329.89,379.61 L330.31,380.22 L330.73,380.83 L331.14,381.44 L331.56,382.05 L331.98,382.65 L332.39,383.26 L332.81,383.87 L333.23,384.47 L333.64,385.07 L334.06,385.67 L334.48,386.27 L334.91,386.87 L335.33,387.46 L335.76,388.06 L336.18,388.64 L336.61,389.23 L337.04,389.81 L337.48,390.39 L337.91,390.97 L338.35,391.55 L338.79,392.12 L339.23,392.69 L339.67,393.26 L340.12,393.82 L340.57,394.38 L341.02,394.94 L341.47,395.50 L341.92,396.05 L342.38,396.60 L342.83,397.15 L343.29,397.70 L343.75,398.24 L344.22,398.78 L344.68,399.32 L345.15,399.85 L345.62,400.39 L346.09,400.92 L346.57,401.45 L347.04,401.97 L347.52,402.49 L348.00,403.01 L348.48,403.53 L348.97,404.05 L349.45,404.56 L349.94,405.07 L350.43,405.58 L350.92,406.08 L351.42,406.58 L351.92,407.08 L352.42,407.58 L352.92,408.07 L353.42,408.57 L353.93,409.06 L354.44,409.54 L354.95,410.03 L355.46,410.51 L355.98,410.99 L356.49,411.47 L357.01,411.94 L357.54,412.41 L358.06,412.88 L358.59,413.35 L359.12,413.81 L359.65,414.28 L360.18,414.74 L360.72,415.19 L361.26,415.65 L361.80,416.10 L362.34,416.55 L362.88,416.99 L363.43,417.43 L363.98,417.87 L364.53,418.31 L365.09,418.74 L365.64,419.17 L366.20,419.60 L366.76,420.02 L367.33,420.44 L367.89,420.86 L368.46,421.27 L369.03,421.68 L369.61,422.08 L370.18,422.49 L370.76,422.89 L371.34,423.28 L371.92,423.67 L372.50,424.06 L373.09,424.44 L373.68,424.82 L374.27,425.19 L374.87,425.56 L375.46,425.93 L376.06,426.29 L376.66,426.65 L377.26,427.00 L377.87,427.35 L378.48,427.69 L379.08,428.03 L379.70,428.37 L380.31,428.70 L380.93,429.02 L381.55,429.35 L382.17,429.66 L382.79,429.97 L383.42,430.28 L384.05,430.58 L384.68,430.88 L385.31,431.17 L385.94,431.45 L386.58,431.73 L387.22,432.01 L387.86,432.28 L388.51,432.54 L389.15,432.80 L389.80,433.05 L390.45,433.30 L391.11,433.54 L391.76,433.78 L392.42,434.01 L393.08,434.23 L393.75,434.45 L394.41,434.66 L395.08,434.87 L395.75,435.07 L396.42,435.27 L397.09,435.45 L397.77,435.64 L398.45,435.81 L399.13,435.98 L399.81,436.14 L400.50,436.30 L401.19,436.45 L401.88,436.59 L402.57,436.73 L403.27,436.86 L403.96,436.98 L404.66,437.10 L405.37,437.21 L406.07,437.31 L406.78,437.40 L407.49,437.49 L408.20,437.57 L408.91,437.65 L409.63,437.71 L410.34,437.77 L411.06,437.82 L411.79,437.87 L412.51,437.90 L413.24,437.93 L413.97,437.96 L414.70,437.97 L415.44,437.98 L416.17,437.97" stroke="#008000" stroke-width="1.75" stroke-dasharray="6.8 5.8"/>
</g>
<g stroke="#141414" stroke-width="1.45" fill="none">
<path d="M45.9,495.3 L45.9,235.9 L420,235.9"/>
<path d="M45.175,495.3 L420,495.3"/>
<path d="M77.9,495.3 v-3.3 M77.9,235.9 v3.3 M110.0,495.3 v-6.0 M110.0,235.9 v6.0 M142.0,495.3 v-3.3 M142.0,235.9 v3.3 M174.1,495.3 v-6.0 M174.1,235.9 v6.0 M206.1,495.3 v-3.3 M206.1,235.9 v3.3 M238.1,495.3 v-6.0 M238.1,235.9 v6.0 M270.2,495.3 v-3.3 M270.2,235.9 v3.3 M302.2,495.3 v-6.0 M302.2,235.9 v6.0 M334.3,495.3 v-3.3 M334.3,235.9 v3.3 M366.3,495.3 v-6.0 M366.3,235.9 v6.0 M398.3,495.3 v-3.3 M398.3,235.9 v3.3 M430.4,495.3 v-6.0 M430.4,235.9 v6.0 M45.9,241.1 h3.3 M45.9,267.6 h6.0 M45.9,294.0 h3.3 M45.9,320.5 h6.0 M45.9,347.0 h3.3 M45.9,373.5 h6.0 M45.9,400.0 h3.3 M45.9,426.4 h6.0 M45.9,452.9 h3.3 M45.9,479.4 h6.0" stroke-width="1.15"/>
</g>
<g fill="none">
<path d="M103.7,452.7 H137.5" stroke="#000" stroke-width="2.0"/>
<path d="M103.6,478.1 H136" stroke="#0000ff" stroke-width="1.55" stroke-dasharray="1.4 1.2"/>
<path d="M190.2,452.7 H224.8" stroke="#800080" stroke-width="1.75" stroke-dasharray="8.7 2.6 2 2.6"/>
<path d="M191,478 H223.6" stroke="#008000" stroke-width="1.75" stroke-dasharray="6.8 6.2"/>
<path d="M277.3,452.9 H309.5" stroke="#ff0000" stroke-width="1.65" stroke-dasharray="3.5 2.2"/>
</g>
<g font-family="Liberation Sans, sans-serif" fill="#000" stroke="#000" stroke-width="0.25">
<text transform="translate(45.7,512.5) scale(1,1.1)" font-size="13.5" text-anchor="middle">0</text>
<text transform="translate(109.8,512.5) scale(1,1.1)" font-size="13.5" text-anchor="middle">30</text>
<text transform="translate(173.9,512.5) scale(1,1.1)" font-size="13.5" text-anchor="middle">60</text>
<text transform="translate(237.9,512.5) scale(1,1.1)" font-size="13.5" text-anchor="middle">90</text>
<text transform="translate(302.0,512.5) scale(1,1.1)" font-size="13.5" text-anchor="middle">120</text>
<text transform="translate(366.1,512.5) scale(1,1.1)" font-size="13.5" text-anchor="middle">150</text>
<text transform="translate(39.4,271.8) scale(1,1.1)" font-size="13.5" text-anchor="end">-5</text>
<text transform="translate(39.4,324.7) scale(1,1.1)" font-size="13.5" text-anchor="end">-6</text>
<text transform="translate(39.4,377.7) scale(1,1.1)" font-size="13.5" text-anchor="end">-7</text>
<text transform="translate(39.4,430.6) scale(1,1.1)" font-size="13.5" text-anchor="end">-8</text>
<text transform="translate(39.4,483.6) scale(1,1.1)" font-size="13.5" text-anchor="end">-9</text>
<text x="140.9" y="457.8" font-size="14.6">Li<tspan font-size="9.9" dy="5.3">2</tspan><tspan dy="-5.3">Cs</tspan><tspan font-size="8.9" dy="-7.1" dx="0.4">+</tspan></text>
<text x="140.9" y="483.0" font-size="14.6">Li<tspan font-size="9.9" dy="5.3">2</tspan><tspan dy="-5.3">Rb</tspan><tspan font-size="8.9" dy="-7.1" dx="0.4">+</tspan></text>
<text x="228.8" y="457.8" font-size="14.6">Cs<tspan font-size="9.9" dy="5.3">2</tspan><tspan dy="-5.3">Li</tspan><tspan font-size="8.9" dy="-7.1" dx="0.4">+</tspan></text>
<text x="228.8" y="483.0" font-size="14.6">Cs<tspan font-size="9.9" dy="5.3">2</tspan><tspan dy="-5.3">Rb</tspan><tspan font-size="8.9" dy="-7.1" dx="0.4">+</tspan></text>
<text x="314.8" y="457.8" font-size="14.6">Na<tspan font-size="9.9" dy="5.3">2</tspan><tspan dy="-5.3">K</tspan><tspan font-size="8.9" dy="-7.1" dx="0.4">+</tspan></text>
<text x="56.0" y="260.6" font-size="14.9">[A-A-B]<tspan font-size="9.8" dy="-7.5" dx="0.3">+</tspan></text>
<text x="366.7" y="260.6" font-size="14.9">[A-B-A]</text>
<text x="198.6" y="532.4" font-size="14.6"><tspan font-family="Liberation Serif, serif" font-style="italic" font-size="16.5">θ</tspan><tspan dx="1.6">(degrees)</tspan></text>
<text transform="translate(17.5,468.6) rotate(-90)" font-size="14.6">interaction<tspan dx="1.5"> energy</tspan><tspan dx="0.9"> (10</tspan><tspan font-size="10.3" dy="-7.6">3</tspan><tspan dy="7.6" dx="2.6">cm</tspan><tspan font-size="10.3" dy="-7.6">-1</tspan><tspan dy="7.6" dx="-3.2">)</tspan></text>
</g>
</svg>
</body></html>
